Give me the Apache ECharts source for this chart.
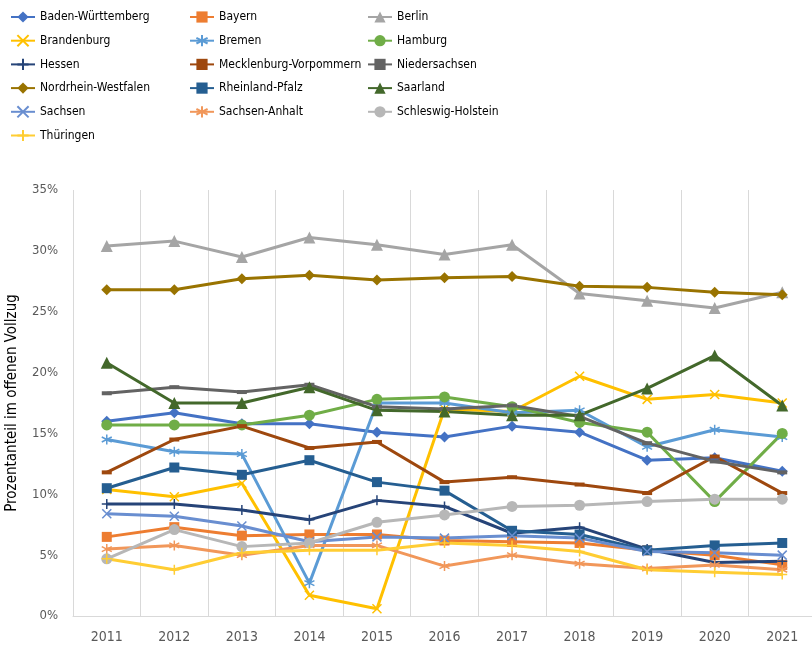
<!DOCTYPE html>
<html>
<head>
<meta charset="utf-8">
<script src="https://cdn.jsdelivr.net/npm/echarts@6/dist/echarts.min.js"></script>
<style>
  html, body { margin: 0; padding: 0; background: #fff; }
  #main { width: 812px; height: 645px; }
</style>
</head>
<body>
<div id="main"></div>
<script>
// Jahre (Kategorien)
const years = ['2011', '2012', '2013', '2014', '2015', '2016', '2017', '2018', '2019', '2020', '2021'];

// Prozentanteil im offenen Vollzug je Bundesland
const badenWuerttemberg = [16.0, 16.7, 15.8, 15.8, 15.1, 14.7, 15.6, 15.1, 12.8, 13.0, 11.9];
const bayern = [6.5, 7.3, 6.6, 6.7, 6.7, 6.2, 6.1, 6.0, 5.4, 5.0, 4.2];
const berlin = [30.4, 30.8, 29.5, 31.1, 30.5, 29.7, 30.5, 26.5, 25.9, 25.3, 26.6];
const brandenburg = [10.4, 9.8, 10.9, 1.7, 0.6, 17.0, 16.8, 19.7, 17.8, 18.2, 17.5];
const bremen = [14.5, 13.5, 13.3, 2.7, 17.5, 17.5, 16.7, 16.9, 13.9, 15.3, 14.7];
const hamburg = [15.7, 15.7, 15.7, 16.5, 17.8, 18.0, 17.2, 15.9, 15.1, 9.4, 15.0];
const hessen = [9.2, 9.2, 8.7, 7.9, 9.5, 9.0, 6.8, 7.3, 5.5, 4.4, 4.5];
const mecklenburgVorpommern = [11.8, 14.5, 15.6, 13.8, 14.3, 11.0, 11.4, 10.8, 10.1, 13.1, 10.1];
const niedersachsen = [18.3, 18.8, 18.4, 19.0, 17.2, 17.0, 17.3, 16.4, 14.2, 12.7, 11.8];
const nordrheinWestfalen = [26.8, 26.8, 27.7, 28.0, 27.6, 27.8, 27.9, 27.1, 27.0, 26.6, 26.4];
const rheinlandPfalz = [10.5, 12.2, 11.6, 12.8, 11.0, 10.3, 7.0, 6.7, 5.4, 5.8, 6.0];
const saarland = [20.8, 17.5, 17.5, 18.8, 16.9, 16.8, 16.5, 16.5, 18.7, 21.4, 17.3];
const sachsen = [8.4, 8.2, 7.4, 6.1, 6.5, 6.4, 6.6, 6.4, 5.3, 5.2, 5.0];
const sachsenAnhalt = [5.5, 5.8, 5.0, 5.8, 5.8, 4.1, 5.0, 4.3, 3.9, 4.2, 3.8];
const schleswigHolstein = [4.7, 7.1, 5.7, 6.0, 7.7, 8.3, 9.0, 9.1, 9.4, 9.6, 9.6];
const thueringen = [4.7, 3.8, 5.2, 5.4, 5.4, 6.0, 5.8, 5.3, 3.8, 3.6, 3.4];

// Legendenspalten
const legendCol1 = ['Baden-Württemberg', 'Brandenburg', 'Hessen', 'Nordrhein-Westfalen', 'Sachsen', 'Thüringen'];
const legendCol2 = ['Bayern', 'Bremen', 'Mecklenburg-Vorpommern', 'Rheinland-Pfalz', 'Sachsen-Anhalt'];
const legendCol3 = ['Berlin', 'Hamburg', 'Niedersachsen', 'Saarland', 'Schleswig-Holstein'];

// Markersymbole (Excel-Stil)
const symX = 'path://M0,0L10,10M0,10L10,0';
const symStar = 'path://M5,0L5,10M0,2.5L10,7.5M0,7.5L10,2.5';
const symPlus = 'path://M5,0L5,10M0,5L10,5';

const FONT = "'DejaVu Sans Condensed', 'Liberation Sans', Arial, sans-serif";

function makeSeries(name, data, color, symbol, size, stroked) {
  return {
    name: name,
    type: 'line',
    data: data,
    symbol: symbol,
    symbolSize: size,
    showAllSymbol: true,
    lineStyle: { color: color, width: 3 },
    itemStyle: stroked
      ? { color: color, borderColor: color, borderWidth: 1.5 }
      : { color: color, borderWidth: 0 },
    emphasis: { disabled: true }
  };
}

function makeLegend(left, names) {
  return {
    left: left, top: 10, orient: 'vertical', padding: 0,
    itemWidth: 24, itemHeight: 14, itemGap: 9.7,
    textStyle: { fontFamily: FONT, fontSize: 12, lineHeight: 14, color: '#000' },
    data: names
  };
}

var myChart = echarts.init(document.getElementById('main'));

var option = {
  animation: false,
  textStyle: { fontFamily: FONT },
  legend: [makeLegend(10, legendCol1), makeLegend(189, legendCol2), makeLegend(367, legendCol3)],
  grid: { left: 73, right: -4, top: 190, bottom: 29, outerBoundsMode: 'none' },
  xAxis: {
    type: 'category',
    data: years,
    boundaryGap: true,
    axisLine: { lineStyle: { color: '#d9d9d9', width: 1 } },
    axisTick: { show: false },
    axisLabel: { color: '#595959', fontSize: 14, margin: 14, fontFamily: FONT },
    splitLine: { show: true, lineStyle: { color: '#d9d9d9', width: 1 } }
  },
  yAxis: {
    type: 'value',
    min: 0,
    max: 35,
    interval: 5,
    name: 'Prozentanteil im offenen Vollzug',
    nameLocation: 'middle',
    nameGap: 53,
    nameTextStyle: { color: '#000', fontSize: 15, fontFamily: FONT },
    axisLine: { show: false },
    axisTick: { show: false },
    splitLine: { show: false },
    axisLabel: { formatter: '{value}%', color: '#595959', fontSize: 13, margin: 15, fontFamily: FONT }
  },
  series: [
    makeSeries('Baden-Württemberg', badenWuerttemberg, '#4472C4', 'diamond', 11, false),
    makeSeries('Bayern', bayern, '#ED7D31', 'rect', 10, false),
    makeSeries('Berlin', berlin, '#A5A5A5', 'triangle', 12, false),
    makeSeries('Brandenburg', brandenburg, '#FFC000', symX, 9, true),
    makeSeries('Bremen', bremen, '#5B9BD5', symStar, 10, true),
    makeSeries('Hamburg', hamburg, '#70AD47', 'circle', 11, false),
    makeSeries('Hessen', hessen, '#264478', symPlus, 10, true),
    makeSeries('Mecklenburg-Vorpommern', mecklenburgVorpommern, '#9E480E', 'rect', [10, 4], false),
    makeSeries('Niedersachsen', niedersachsen, '#636363', 'rect', [10, 4], false),
    makeSeries('Nordrhein-Westfalen', nordrheinWestfalen, '#997300', 'diamond', 11, false),
    makeSeries('Rheinland-Pfalz', rheinlandPfalz, '#255E91', 'rect', 10, false),
    makeSeries('Saarland', saarland, '#43682B', 'triangle', 12, false),
    makeSeries('Sachsen', sachsen, '#698ED0', symX, 9, true),
    makeSeries('Sachsen-Anhalt', sachsenAnhalt, '#F1975A', symStar, 10, true),
    makeSeries('Schleswig-Holstein', schleswigHolstein, '#B7B7B7', 'circle', 11, false),
    makeSeries('Thüringen', thueringen, '#FFCD33', symPlus, 10, true)
  ]
};
myChart.setOption(option);
</script>
</body>
</html>
